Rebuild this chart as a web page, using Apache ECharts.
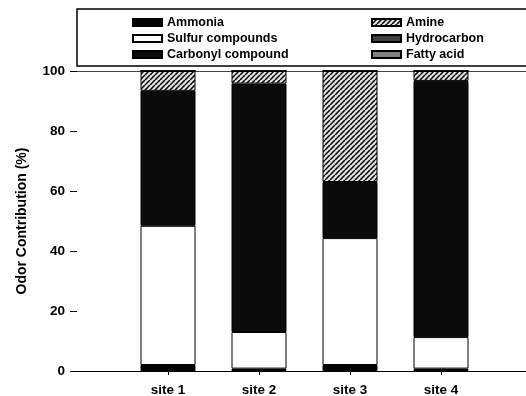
<!DOCTYPE html>
<html>
<head>
<meta charset="utf-8">
<script src="https://cdn.jsdelivr.net/npm/echarts@6/dist/echarts.min.js"></script>
<style>
html,body{margin:0;padding:0;background:#fff;}
#chart{width:526px;height:396px;}
</style>
</head>
<body>
<div id="chart"></div>
<script>
// ---- data ----
var categories = ['', 'site 1', 'site 2', 'site 3', 'site 4', ''];
var ammonia     = [null, 2.0, 0.8, 2.0, 0.8, null];
var sulfur      = [null, 46.4, 12.2, 42.3, 10.5, null];
var carbonyl    = [null, 45.0, 82.8, 18.7, 85.4, null];
var amine       = [null, 6.6, 4.2, 37.0, 3.3, null];
var hydrocarbon = [null, 0, 0, 0, 0, null];
var fattyAcid   = [null, 0, 0, 0, 0, null];
var yTicks = [0, 20, 40, 60, 80, 100];

// hatch pattern for Amine
function makeHatch() {
  var s = 5;
  var c = document.createElement('canvas');
  c.width = s; c.height = s;
  var g = c.getContext('2d');
  g.fillStyle = '#e2e2e2';
  g.fillRect(0, 0, s, s);
  g.strokeStyle = '#000';
  g.lineWidth = 1.5;
  [-s, 0, s].forEach(function (x0) {
    g.beginPath();
    g.moveTo(x0, s);
    g.lineTo(x0 + s, 0);
    g.stroke();
  });
  return c;
}
var hatch = { image: makeHatch(), repeat: 'repeat' };

var font = 'Liberation Sans, Arial, sans-serif';
var chart = echarts.init(document.getElementById('chart'), null, { renderer: 'canvas' });

function bar(name, data, color) {
  return {
    name: name,
    type: 'bar',
    stack: 'total',
    data: data,
    barWidth: 55,
    itemStyle: { color: color, borderColor: '#000', borderWidth: 1 },
    emphasis: { disabled: true }
  };
}

var legendText = { fontFamily: font, fontWeight: 'bold', fontSize: 12.5, color: '#000' };

chart.setOption({
  animation: false,
  backgroundColor: '#fff',
  graphic: [{
    type: 'rect',
    shape: { x: 77, y: 9, width: 460, height: 57 },
    style: { fill: 'none', stroke: '#000', lineWidth: 1.5 },
    z: 0
  }],
  legend: [{
    data: ['Ammonia', 'Sulfur compounds', 'Carbonyl compound'],
    orient: 'vertical', left: 127, top: 11,
    itemWidth: 29, itemHeight: 7, itemGap: 3, icon: 'rect',
    textStyle: legendText, selectedMode: false
  }, {
    data: ['Amine', 'Hydrocarbon', 'Fatty acid'],
    orient: 'vertical', left: 366, top: 11,
    itemWidth: 29, itemHeight: 7, itemGap: 3, icon: 'rect',
    textStyle: legendText, selectedMode: false
  }],
  grid: { left: 77, top: 71, width: 455, height: 300, containLabel: false, outerBoundsMode: 'none' },
  xAxis: [{
    type: 'category',
    data: categories,
    boundaryGap: false,
    axisLine: { lineStyle: { color: '#000', width: 1 } },
    axisTick: {
      length: 4, lineStyle: { color: '#000' },
      interval: function (i, v) { return v !== ''; }
    },
    axisLabel: {
      interval: 0, margin: 12,
      fontFamily: font, fontWeight: 'bold', fontSize: 13.5, color: '#000'
    },
    splitLine: { show: false }
  }, {
    type: 'category',
    data: categories,
    position: 'top',
    boundaryGap: false,
    axisLine: { lineStyle: { color: '#444', width: 1 } },
    axisTick: { show: false },
    axisLabel: { show: false },
    splitLine: { show: false }
  }],
  yAxis: {
    type: 'value',
    min: 0, max: 100, interval: 20,
    name: 'Odor Contribution (%)',
    nameLocation: 'middle',
    nameGap: 48,
    nameTextStyle: { fontFamily: font, fontWeight: 'bold', fontSize: 14, color: '#000' },
    axisLine: { show: false },
    axisTick: { show: true, length: 7, lineStyle: { color: '#000' } },
    axisLabel: {
      margin: 12,
      fontFamily: font, fontWeight: 'bold', fontSize: 13.5, color: '#000',
      formatter: function (v) { return yTicks.indexOf(v) >= 0 ? String(v) : ''; }
    },
    splitLine: { show: false }
  },
  series: [
    bar('Ammonia', ammonia, '#000'),
    bar('Sulfur compounds', sulfur, '#fff'),
    bar('Carbonyl compound', carbonyl, '#0b0b0b'),
    bar('Amine', amine, hatch),
    bar('Hydrocarbon', hydrocarbon, '#404040'),
    bar('Fatty acid', fattyAcid, '#808080')
  ]
});
</script>
</body>
</html>
